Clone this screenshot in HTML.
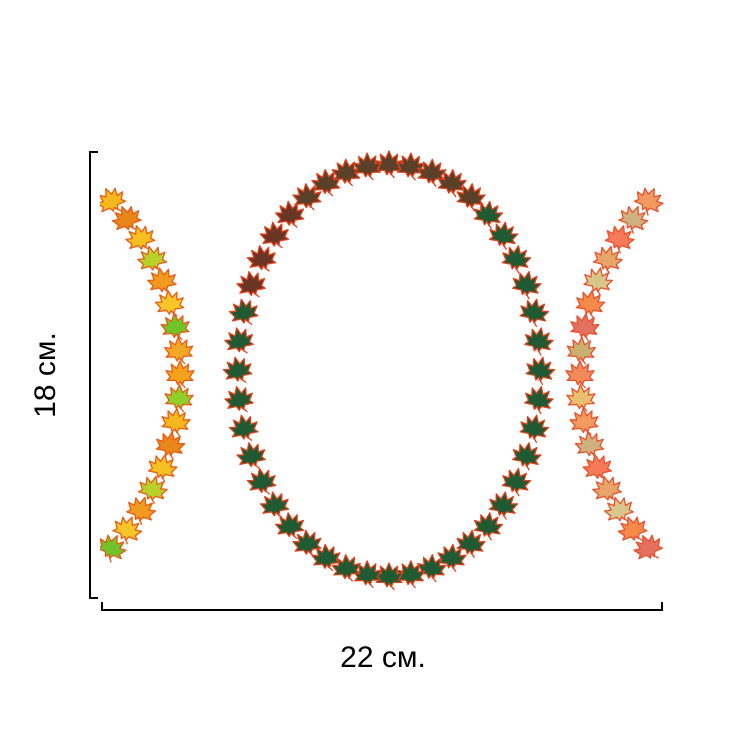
<!DOCTYPE html>
<html><head><meta charset="utf-8"><style>
html,body{margin:0;padding:0;background:#fff;width:750px;height:750px;overflow:hidden}
</style></head><body>
<svg id="s" width="750" height="750" viewBox="0 0 750 750" xmlns="http://www.w3.org/2000/svg">
<defs>
<clipPath id="c"><rect x="100" y="145" width="565" height="455"/></clipPath>
</defs>
<g id="leaves" clip-path="url(#c)"></g>
<g stroke="#000" stroke-width="2" fill="none">
<path d="M98 152 H90 V598 H98"/>
<path d="M102 602 V610 H662 V602"/>
</g>
<text x="383" y="667" font-family="Liberation Sans, sans-serif" font-size="30" text-anchor="middle" fill="#000">22 см.</text>
<text transform="translate(55,375) rotate(-90)" font-family="Liberation Sans, sans-serif" font-size="30" text-anchor="middle" fill="#000">18 см.</text>
</svg>
<script>
var g=document.getElementById('leaves');
var LP='M0,-13 L3,-6 L8,-10 L7,-3 L13,-4 L9,2 L12,5 L4,5 L2,9 L0,6 L-2,9 L-4,5 L-12,5 L-9,2 L-13,-4 L-7,-3 L-8,-10 L-3,-6 Z';
function leaf(x,y,rot,fill,stroke){
  var e=document.createElementNS('http://www.w3.org/2000/svg','g');
  e.setAttribute('transform','translate('+x.toFixed(1)+','+y.toFixed(1)+') rotate('+rot.toFixed(1)+') scale(1.08)');
  e.innerHTML='<path d="'+LP+'" fill="'+fill+'" stroke="'+stroke+'" stroke-width="1.2" stroke-linejoin="round"/><path d="M0 6 L5 12" stroke="'+stroke+'" stroke-width="1.2"/>';
  g.appendChild(e);
}
var cx=389,cy=371,rx=151,ry=206,N=44;
for(var i=0;i<N;i++){
  var t=i/N*2*Math.PI;
  var x=cx+rx*Math.sin(t),y=cy-ry*Math.cos(t);
  var rot=Math.sin(t)*12;
  var fill='#1f5a32';
  if(y<300 && x<480) fill='#6a3524';
  if(y<215) fill='#5a4028';
  leaf(x,y,rot,fill,'#e0401a');
}
var lc=['#f3a21c','#8fcf2a','#f5b81e','#e8861a','#f6c023','#b7d12a','#f09a20','#f7c72a','#6fc42a','#f2a824'];
var R=254;
for(var k=-8;k<=8;k++){
  var a=k*0.094;
  var x=-74+R*Math.cos(a),y=375+R*Math.sin(a);
  leaf(x,y,k*3,lc[(k+20)%lc.length],'#e85a12');
}
var rc=['#f08a5a','#e8c070','#f29a60','#cfb080','#f47a5a','#e6a66a','#d8c68a','#f58a4a','#e47060','#c8b070'];
for(var k=-8;k<=8;k++){
  var a=k*0.094;
  var x=834-R*Math.cos(a),y=375+R*Math.sin(a);
  leaf(x,y,-k*3,rc[(k+20)%rc.length],'#e8502a');
}
</script>
</body></html>
